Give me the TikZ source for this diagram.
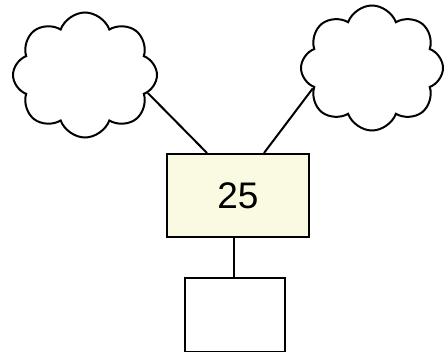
\documentclass[tikz,border=0pt]{standalone}
\usepackage{fontspec}
\setmainfont{Liberation Sans}
\usetikzlibrary{shapes.symbols,calc}
\definecolor{paleyellow}{HTML}{FAFAE2}
\tikzset{
  line/.style={line width=2pt, black},
  cloudbox/.style={cloud, cloud puffs=8, cloud puff arc=140, cloud ignores aspect, draw, line width=2pt, inner sep=0pt, fill=white},
  box/.style={draw, line width=2pt, inner sep=0pt, anchor=north west}
}
\begin{document}
\begin{tikzpicture}[x=1pt,y=-1pt]
\useasboundingbox (0,0) rectangle (444,352);
\node[cloudbox, minimum width=144pt, minimum height=125pt] (lc) at (85,75) {};
\node[cloudbox, minimum width=142pt, minimum height=125pt] (rc) at (372,68) {};
\node[box, fill=paleyellow, minimum width=142pt, minimum height=83pt, font=\fontsize{37}{42}\selectfont] (mid) at (166,153) {25};
\node[box, fill=white, minimum width=100pt, minimum height=74pt] (low) at (184,277) {};
\coordinate (mtl) at ($(mid.north west)+(41,0)$);
\coordinate (mtr) at ($(mid.north west)+(98,0)$);
\draw[line] (lc.-16) -- (mtl);
\draw[line] (rc.-161) -- (mtr);
\draw[line] (mid.south -| 234,0) -- (low.north -| 234,0);
\end{tikzpicture}
\end{document}
